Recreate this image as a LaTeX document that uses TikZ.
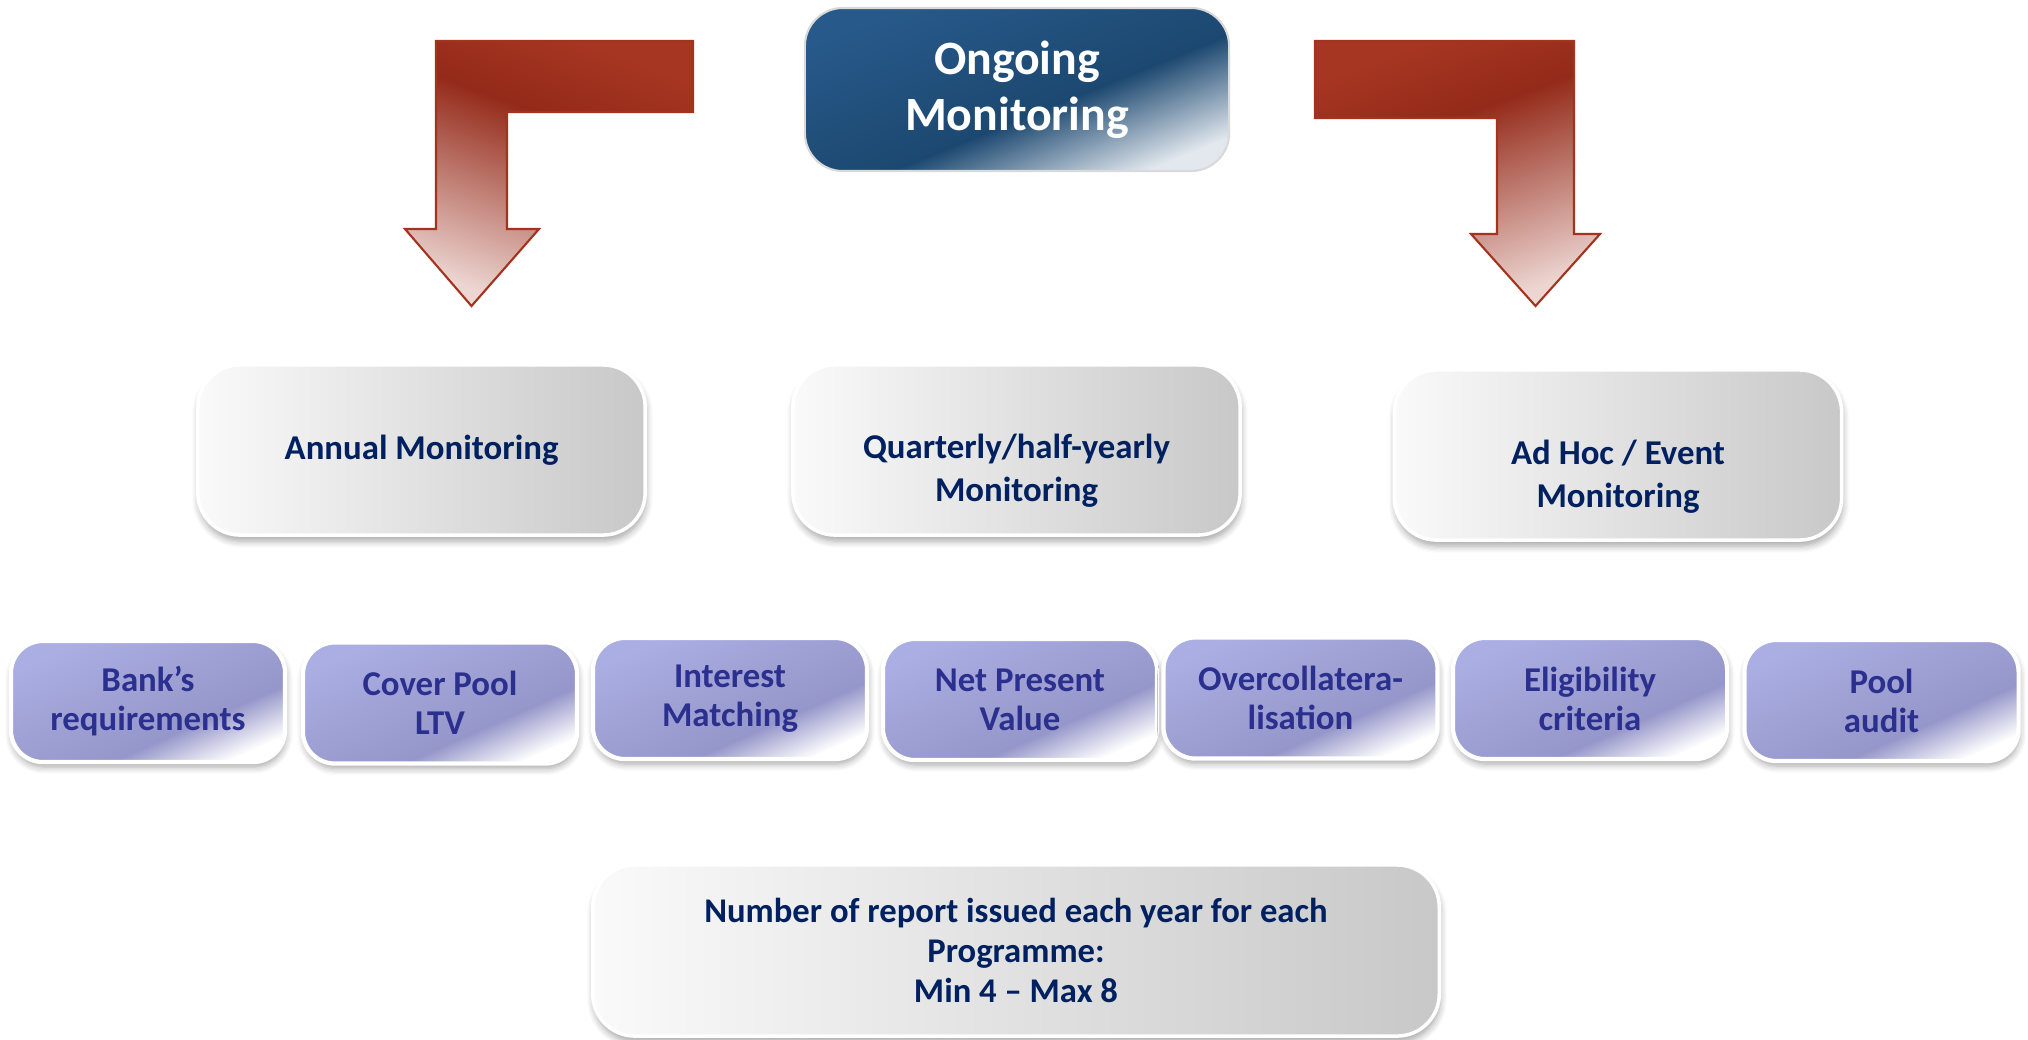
\documentclass[tikz,border=0pt]{standalone}
\usepackage{fontspec}
\setmainfont{Carlito}
\usetikzlibrary{positioning, shadows.blur}

\definecolor{navytext}{HTML}{002060}
\definecolor{indigotext}{HTML}{2B2F8E}
\definecolor{ongoingtop}{HTML}{27598A}
\definecolor{ongoingmid}{HTML}{1C4870}
\definecolor{ongoinglight}{HTML}{E2E8EE}
\definecolor{greyleft}{HTML}{FAFAFA}
\definecolor{greyright}{HTML}{C8C8C8}
\definecolor{smalltop}{HTML}{ABAEE3}
\definecolor{smallmid}{HTML}{9596C9}
\definecolor{arrowtop}{HTML}{A63622}
\definecolor{arrowdark}{HTML}{942A19}
\definecolor{arrowpink}{HTML}{EDD6D2}
\definecolor{arrowedge}{HTML}{A3321F}

\pgfdeclareverticalshading{ongoingfade}{100bp}{color(0bp)=(ongoinglight); color(24bp)=(ongoinglight); color(44bp)=(ongoingmid); color(75bp)=(ongoingtop); color(100bp)=(ongoingtop)}
\pgfdeclareverticalshading{smallfade}{100bp}{color(0bp)=(white); color(24bp)=(white); color(38bp)=(smallmid); color(75bp)=(smalltop); color(100bp)=(smalltop)}
\pgfdeclareverticalshading{arrowfade}{100bp}{color(0bp)=(arrowpink); color(25bp)=(arrowpink); color(60bp)=(arrowdark); color(75bp)=(arrowtop); color(100bp)=(arrowtop)}

\begin{document}
\begin{tikzpicture}[
    x=0.01cm, y=-0.01cm,
    topbox/.style={rounded corners=0.38cm, minimum width=4.24cm, minimum height=1.63cm,
      inner sep=0pt, draw=gray!30, line width=0.6pt, shading=ongoingfade, shading angle=22,
      text=white, align=center, font=\fontsize{13.6}{15.9}\selectfont\bfseries},
    midbox/.style={rounded corners=0.42cm, minimum width=4.47cm, minimum height=1.70cm,
      inner sep=0pt, draw=white, line width=1pt, left color=greyleft, right color=greyright,
      blur shadow={shadow xshift=0.01cm, shadow yshift=-0.06cm, shadow opacity=35, shadow blur steps=6}},
    midtext/.style={text=navytext, align=center, font=\fontsize{9.9}{12.2}\selectfont\bfseries},
    smallbox/.style={rounded corners=0.32cm, minimum width=2.74cm, minimum height=1.21cm,
      inner sep=0pt, draw=white, line width=1.2pt, shading=smallfade, shading angle=24,
      blur shadow={shadow xshift=0.01cm, shadow yshift=-0.05cm, shadow opacity=35, shadow blur steps=6},
      text=indigotext, align=center, font=\fontsize{9.9}{11.1}\selectfont\bfseries},
    bottombox/.style={midbox, minimum width=8.46cm, minimum height=1.71cm,
      text=navytext, align=center, font=\fontsize{9.85}{11.5}\selectfont\bfseries},
    bentarrow/.style={draw=arrowedge, line width=0.6pt, shading=arrowfade}
  ]
  \useasboundingbox (0,0) rectangle (2028,1039);

  % ---- Top ----
  \node[topbox] (ongoing) at (1017,89.5) {Ongoing\\Monitoring};

  % Bent arrows
  \shade[bentarrow, shading angle=-20] (693,41) -- (436,41) -- (436,229) -- (405,229)
    -- (471.5,306) -- (539,229) -- (507,229) -- (507,112) -- (693,112) -- cycle;
  \shade[bentarrow, shading angle=20] (1315,41) -- (1574,41) -- (1574,234) -- (1600,234)
    -- (1535.5,306) -- (1471,234) -- (1497,234) -- (1497,118) -- (1315,118) -- cycle;

  % ---- Monitoring types ----
  \node[midbox] (annual) at (421.5,450) {};
  \node[midtext] (annualtext) at (annual.center) {Annual Monitoring};
  \node[midbox] (quarterly) at (1016.5,450) {};
  \node[midtext] (quarterlytext) at ([yshift=-0.21cm]quarterly.center) {Quarterly/half-yearly\\Monitoring};
  \node[midbox] (adhoc) at (1618,455) {};
  \node[midtext] (adhoctext) at ([yshift=-0.22cm]adhoc.center) {Ad Hoc / Event\\Monitoring};

  % ---- Checks ----
  \node[smallbox] (bank)     at (148,701.5)  {Bank’s\\requirements};
  \node[smallbox] (ltv)      at (440,703)    {Cover Pool\\LTV};
  \node[smallbox] (interest) at (730,698.5)  {Interest\\Matching};
  \node[smallbox] (npv)      at (1020,699.5) {Net Present\\Value};
  \node[smallbox] (overcoll) at (1300.5,698) {Overcollatera-\\lisation};
  \node[smallbox] (elig)     at (1590,698.5) {Eligibility\\criteria};
  \node[smallbox] (audit)    at (1881.5,700.5) {Pool\\audit};

  % ---- Reports ----
  \node[bottombox] (reports) at (1016,950.5) {Number of report issued each year for each\\Programme:\\Min 4 – Max 8};
\end{tikzpicture}
\end{document}
